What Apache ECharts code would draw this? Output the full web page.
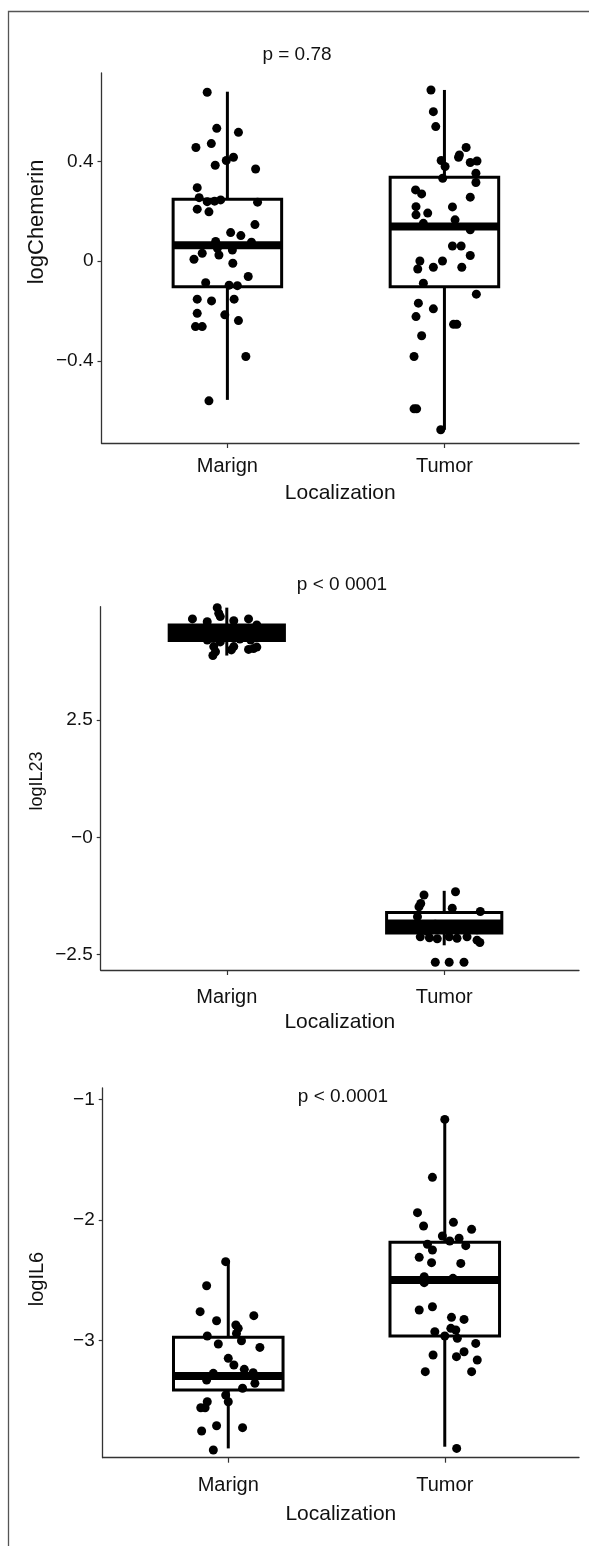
<!DOCTYPE html>
<html><head><meta charset="utf-8">
<script src="https://cdn.jsdelivr.net/npm/echarts@6/dist/echarts.min.js"></script>
<style>html,body{margin:0;padding:0;background:#fff}#c{width:589px;height:1546px}</style>
</head><body><div id="c"></div>
<script>
// ---------- data ----------
const categories = ['Marign', 'Tumor'];
const xName = 'Localization';

const pTexts = ['p = 0.78', 'p < 0 0001', 'p < 0.0001'];
const yNames = ['logChemerin', 'logIL23', 'logIL6'];

const chemTickVals = [-0.4, 0, 0.4];
const chemTickLabels = ['\u22120.4', '0', '0.4'];
const il23TickVals = [-2.5, 0, 2.5];
const il23TickLabels = ['\u22122.5', '\u22120', '2.5'];
const il6TickVals = [-3, -2, -1];
const il6TickLabels = ['\u22123', '\u22122', '\u22121'];

// box stats: [min, q1, median, q3, max]
const chemMarignBox = [-0.556, -0.102, 0.064, 0.249, 0.680];
const chemTumorBox  = [-0.676, -0.102, 0.139, 0.337, 0.687];
const il23MarignBox = [3.87, 4.19, 4.355, 4.52, 4.89];
const il23TumorBox  = [-2.30, -2.04, -1.90, -1.60, -1.14];
const il6MarignBox  = [-3.892, -3.408, -3.292, -2.972, -2.331];
const il6TumorBox   = [-3.878, -2.961, -2.497, -2.185, -1.157];

// jittered points: [horizontal jitter, value]
const chemMarignPts = [[-0.093,0.678],[-0.049,0.533],[0.051,0.517],[-0.145,0.456],[-0.074,0.472],[-0.056,0.385],[-0.005,0.404],[0.028,0.417],[0.130,0.370],[-0.139,0.295],[-0.130,0.255],[-0.093,0.239],[-0.059,0.241],[-0.031,0.246],[-0.139,0.209],[-0.085,0.198],[0.139,0.237],[0.127,0.147],[0.015,0.115],[0.062,0.103],[-0.054,0.079],[-0.046,0.052],[-0.116,0.032],[-0.154,0.008],[-0.039,0.025],[0.023,0.045],[0.111,0.076],[0.025,-0.008],[0.096,-0.061],[-0.100,-0.086],[0.008,-0.096],[0.046,-0.098],[-0.139,-0.152],[-0.073,-0.159],[0.031,-0.152],[-0.139,-0.209],[-0.012,-0.215],[0.051,-0.238],[-0.147,-0.262],[-0.116,-0.262],[0.085,-0.382],[-0.085,-0.560]];
const chemTumorPts = [[-0.062,0.687],[-0.051,0.600],[-0.040,0.540],[0.100,0.456],[0.069,0.426],[0.065,0.417],[0.150,0.402],[0.119,0.396],[-0.015,0.404],[0.003,0.380],[-0.008,0.333],[0.145,0.353],[0.145,0.316],[-0.133,0.286],[-0.105,0.270],[0.119,0.257],[-0.131,0.219],[0.037,0.218],[-0.131,0.186],[-0.077,0.193],[0.049,0.166],[-0.097,0.152],[0.119,0.126],[0.037,0.061],[0.077,0.061],[0.119,0.023],[-0.113,0.001],[-0.009,0.001],[-0.051,-0.024],[-0.123,-0.031],[0.080,-0.024],[-0.097,-0.088],[0.147,-0.132],[-0.120,-0.168],[-0.051,-0.191],[-0.131,-0.222],[0.042,-0.253],[0.057,-0.253],[-0.105,-0.299],[-0.140,-0.382],[-0.140,-0.592],[-0.128,-0.592],[-0.017,-0.676]];
const il23MarignPts = [[-0.044,4.89],[-0.037,4.77],[-0.158,4.65],[-0.090,4.59],[0.032,4.61],[0.100,4.65],[0.138,4.52],[-0.030,4.70],[-0.10,4.46],[-0.06,4.40],[-0.01,4.43],[0.04,4.38],[0.09,4.41],[0.13,4.36],[-0.13,4.33],[-0.03,4.30],[0.03,4.27],[0.08,4.32],[0.12,4.29],[-0.07,4.24],[0.06,4.22],[0.11,4.20],[-0.03,4.16],[-0.09,4.20],[-0.052,3.95],[-0.060,4.06],[-0.064,3.87],[0.021,3.99],[0.032,4.06],[0.100,4.00],[0.138,4.05],[0.123,4.02]];
const il23TumorPts = [[-0.093,-1.23],[-0.108,-1.41],[-0.116,-1.48],[0.052,-1.16],[0.037,-1.51],[0.166,-1.58],[-0.123,-1.69],[-0.041,-1.85],[-0.018,-1.93],[0.023,-1.90],[0.059,-1.95],[0.096,-1.88],[0.128,-1.92],[0.151,-1.97],[-0.110,-2.12],[-0.068,-2.14],[-0.032,-2.16],[0.023,-2.12],[0.059,-2.15],[0.105,-2.12],[0.151,-2.19],[0.164,-2.24],[-0.078,-2.00],[-0.041,-2.66],[0.023,-2.66],[0.091,-2.66]];
const il6MarignPts = [[-0.012,-2.345],[-0.100,-2.544],[-0.130,-2.759],[-0.054,-2.834],[0.118,-2.792],[0.035,-2.870],[0.046,-2.897],[-0.097,-2.961],[0.038,-2.939],[0.061,-3.000],[-0.046,-3.027],[0.146,-3.055],[0.000,-3.146],[0.026,-3.201],[0.074,-3.237],[-0.069,-3.270],[0.115,-3.265],[-0.100,-3.325],[0.123,-3.353],[0.066,-3.394],[-0.012,-3.450],[0.000,-3.505],[-0.097,-3.505],[-0.127,-3.555],[-0.107,-3.555],[-0.054,-3.704],[0.066,-3.720],[-0.123,-3.748],[-0.069,-3.905]];
const il6TumorPts = [[0,-1.166],[-0.057,-1.646],[-0.126,-1.939],[0.040,-2.019],[-0.098,-2.049],[0.124,-2.077],[-0.011,-2.132],[0.066,-2.151],[0.023,-2.174],[-0.080,-2.201],[-0.057,-2.248],[0.097,-2.212],[-0.118,-2.309],[-0.061,-2.353],[0.074,-2.359],[-0.095,-2.469],[-0.095,-2.519],[0.038,-2.483],[-0.118,-2.745],[-0.057,-2.718],[0.031,-2.806],[0.089,-2.823],[-0.046,-2.925],[0.028,-2.897],[0.051,-2.911],[0.058,-2.980],[0,-2.961],[0.143,-3.022],[-0.054,-3.118],[0.089,-3.091],[0.054,-3.132],[0.150,-3.160],[-0.090,-3.256],[0.124,-3.256],[0.055,-3.892]];

// ---------- chart ----------
const FONT = '"Liberation Sans", Arial, Helvetica, sans-serif';
const panels = [
  {grid:{left:101.5, top:73, right:10, height:370}, yMin:-0.729, yMax:0.755, tv:chemTickVals, tl:chemTickLabels,
   boxes:[chemMarignBox, chemTumorBox], pts:[chemMarignPts, chemTumorPts], halfW:0.25, labelMargin:13, nameGap:40,
   title:[297,55], yName:[37,222], yNameSize:22, medW:8},
  {grid:{left:100.7, top:606.7, right:10, height:363.3}, yMin:-2.826, yMax:4.91, tv:il23TickVals, tl:il23TickLabels,
   boxes:[il23MarignBox, il23TumorBox], pts:[il23MarignPts, il23TumorPts], halfW:0.265, labelMargin:17, nameGap:42,
   title:[342,585], yName:[37,781], yNameSize:18, medW:14},
  {grid:{left:102.7, top:1088, right:10, height:369.7}, yMin:-3.969, yMax:-0.906, tv:il6TickVals, tl:il6TickLabels,
   boxes:[il6MarignBox, il6TumorBox], pts:[il6MarignPts, il6TumorPts], halfW:0.253, labelMargin:18, nameGap:46,
   title:[343,1097], yName:[37,1279], yNameSize:20, medW:8}
];

function boxRender(halfW, medW) {
  return function (params, api) {
    const x = api.value(0);
    const mn = api.value(1), q1 = api.value(2), md = api.value(3), q3 = api.value(4), mx = api.value(5);
    const tl = api.coord([x - halfW, q3]), br = api.coord([x + halfW, q1]);
    const pMin = api.coord([x, mn]), pMax = api.coord([x, mx]);
    const pQ1 = api.coord([x, q1]), pQ3 = api.coord([x, q3]);
    const mL = api.coord([x - halfW, md]), mR = api.coord([x + halfW, md]);
    return {type:'group', children:[
      {type:'line', shape:{x1:pQ3[0], y1:pQ3[1], x2:pMax[0], y2:pMax[1]}, style:{stroke:'#000', lineWidth:3}},
      {type:'line', shape:{x1:pQ1[0], y1:pQ1[1], x2:pMin[0], y2:pMin[1]}, style:{stroke:'#000', lineWidth:3}},
      {type:'rect', shape:{x:tl[0], y:tl[1], width:br[0]-tl[0], height:br[1]-tl[1]}, style:{fill:'#fff', stroke:'#000', lineWidth:3}},
      {type:'line', shape:{x1:mL[0], y1:mL[1], x2:mR[0], y2:mR[1]}, style:{stroke:'#000', lineWidth:medW}}
    ]};
  };
}

const grids = [], xAxes = [], yAxes = [], series = [], graphics = [];
panels.forEach((p, i) => {
  grids.push(p.grid);
  xAxes.push({
    gridIndex:i, type:'value', min:0.42, max:2.62, splitLine:{show:false},
    axisLine:{show:true, onZero:false, lineStyle:{color:'#333', width:1.3}},
    axisTick:{show:true, customValues:[1,2], length:5, lineStyle:{color:'#333', width:1.2}},
    axisLabel:{customValues:[1,2], formatter:v => categories[Math.round(v)-1], color:'#111', fontSize:20, margin:p.labelMargin, fontFamily:FONT},
    name:xName, nameLocation:'middle', nameGap:p.nameGap, nameTextStyle:{color:'#111', fontSize:21, fontFamily:FONT}
  });
  yAxes.push({
    gridIndex:i, type:'value', min:p.yMin, max:p.yMax, splitLine:{show:false},
    axisLine:{show:true, onZero:false, lineStyle:{color:'#333', width:1.3}},
    axisTick:{show:true, customValues:p.tv, length:4, lineStyle:{color:'#333', width:1.2}},
    axisLabel:{customValues:p.tv, formatter:v => { const k = p.tv.findIndex(t => Math.abs(t - v) < 1e-9); return k >= 0 ? p.tl[k] : ''; },
      color:'#111', fontSize:19, margin:8, fontFamily:FONT}
  });
  series.push({
    type:'custom', xAxisIndex:i, yAxisIndex:i, z:2, renderItem:boxRender(p.halfW, p.medW),
    encode:{x:0, y:[1,2,3,4,5]},
    data:p.boxes.map((b, k) => [k + 1].concat(b))
  });
  p.pts.forEach((arr, k) => {
    series.push({
      type:'scatter', xAxisIndex:i, yAxisIndex:i, z:3, symbol:'circle', symbolSize:9,
      itemStyle:{color:'#000', opacity:1}, silent:true,
      data:arr.map(q => [k + 1 + q[0], q[1]])
    });
  });
  graphics.push({type:'text', x:p.title[0], y:p.title[1],
    style:{text:pTexts[i], fill:'#111', font:'19px ' + FONT, align:'center', verticalAlign:'middle'}});
  graphics.push({type:'text', x:p.yName[0], y:p.yName[1], rotation:Math.PI/2,
    style:{text:yNames[i], fill:'#111', font:p.yNameSize + 'px ' + FONT, align:'center', verticalAlign:'middle'}});
});
graphics.push({type:'polyline', shape:{points:[[8.5,1546],[8.5,11.5],[589,11.5]]}, style:{stroke:'#555', lineWidth:1.3, fill:null}});

const chart = echarts.init(document.getElementById('c'), null, {renderer:'canvas'});
chart.setOption({
  backgroundColor:'#fff', animation:false,
  grid:grids, xAxis:xAxes, yAxis:yAxes, series:series, graphic:graphics
});
</script></body></html>
